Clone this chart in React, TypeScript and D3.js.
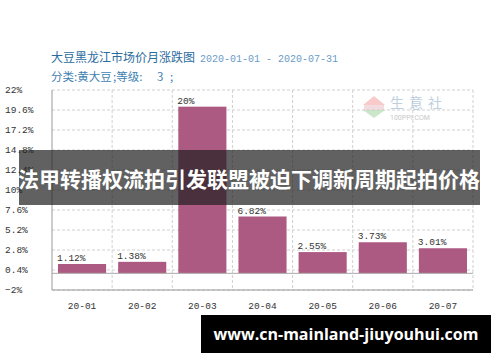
import React from 'react';
import * as d3 from 'd3';

const months = ['20-01', '20-02', '20-03', '20-04', '20-05', '20-06', '20-07'];
const changes = [1.12, 1.38, 20, 6.82, 2.55, 3.73, 3.01];
const valueLabels = ['1.12%', '1.38%', '20%', '6.82%', '2.55%', '3.73%', '3.01%'];
const yTicks = [-2, 0.4, 2.8, 5.2, 7.6, 10, 12.4, 14.8, 17.2, 19.6, 22];

const W = 500;
const H = 362;
const margin = { top: 90, right: 27, bottom: 72, left: 52 };

const App = () => {
  const x0 = margin.left;
  const x1 = W - margin.right;
  const y0 = H - margin.bottom;
  const y1 = margin.top;

  const y = d3.scaleLinear().domain([-2, 22]).range([y0, y1]);
  // columns for grid, bars inset in each column
  const cols = d3.scaleBand().domain(months).range([x0, x1]).padding(0);
  const x = d3.scaleBand().domain(months).range([x0, x1]).paddingInner(0.2).paddingOuter(0.1);

  const tickFont = '"Liberation Mono", "DejaVu Sans Mono", monospace';
  const cjk = '"Noto Sans CJK SC", sans-serif';

  return (
    <svg width={W} height={H} style={{ position: 'absolute', left: 0, top: 0, background: '#fff' }}>
      {/* title */}
      <text x={51} y={62} fontFamily={cjk} fontSize={12} fill="#2b6b9e">
        大豆黑龙江市场价月涨跌图
        <tspan x={200} fontFamily={tickFont} fontSize={10} fill="#6a9cc8">2020-01-01 - 2020-07-31</tspan>
      </text>
      <text x={51} y={81} fontFamily={cjk} fontSize={11.5} fill="#3f7fb2">
        分类:黄大豆
        <tspan x={113}>;等级:</tspan>
        <tspan x={157}>3</tspan>
        <tspan x={170}>;</tspan>
      </text>

      {/* horizontal grid */}
      {yTicks.map(t => (
        <line key={t} x1={x0} x2={x1} y1={y(t)} y2={y(t)} stroke="#d0d0d0" strokeDasharray="3,2" />
      ))}
      {/* vertical grid */}
      {months.map(m => (
        <line key={m} x1={(cols(m) as number) + cols.bandwidth()} x2={(cols(m) as number) + cols.bandwidth()}
          y1={y1} y2={y0} stroke="#d0d0d0" strokeDasharray="3,2" />
      ))}

      {/* watermark */}
      <g opacity={0.55}>
        <path d="M363,105 L374,96 L385,105 Z" fill="#f3a0a0" />
        <rect x={364} y={105} width={20} height={5} fill="#e8c0c8" />
        <path d="M363,110 L385,110 L374,118 Z" fill="#9fd59f" />
        <text x={390} y={108} fontFamily={cjk} fontSize={14} fill="#8aa8c8" letterSpacing={5}>生意社</text>
        <text x={390} y={120} fontFamily="Roboto, sans-serif" fontSize={7} fill="#999">100PPI.COM</text>
      </g>

      {/* bars */}
      {months.map((m, i) => {
        const v = changes[i];
        return (
          <g key={m}>
            <rect x={x(m)} y={y(Math.max(0, v))} width={x.bandwidth()}
              height={Math.abs(y(v) - y(0))} fill="#ad5a82" />
            <text x={(x(m) as number) - 1} y={y(v) - 3} fontFamily={tickFont} fontSize={9.5} fill="#333">
              {valueLabels[i]}
            </text>
          </g>
        );
      })}

      {/* zero line */}
      <line x1={x0} x2={x1} y1={y(0)} y2={y(0)} stroke="#aaa" />
      {/* axes */}
      <line x1={x0} x2={x0} y1={y1} y2={y0} stroke="#999" />
      <line x1={x0} x2={x1} y1={y0} y2={y0} stroke="#999" />

      {/* y tick labels */}
      {yTicks.map(t => (
        <text key={t} x={5} y={y(t) + 3} fontFamily={tickFont} fontSize={9.5} fill="#333">
          {d3.format('~g')(t) + '%'}
        </text>
      ))}
      {/* x labels */}
      {months.map(m => (
        <text key={m} x={(cols(m) as number) + cols.bandwidth() / 2} y={309} textAnchor="middle"
          fontFamily={tickFont} fontSize={9.5} fill="#333">
          {m}
        </text>
      ))}

      {/* headline banner */}
      <rect x={19} y={150} width={461} height={55} fill="rgb(30,30,30)" fillOpacity={0.7} />
      <text x={249} y={187} textAnchor="middle" fontFamily={cjk} fontWeight="bold" fontSize={21} fill="#fff">
        法甲转播权流拍引发联盟被迫下调新周期起拍价格
      </text>

      {/* url box */}
      <rect x={201} y={315} width={290} height={38} fill="#000" />
      <text x={346} y={340} textAnchor="middle" fontFamily='"Open Sans", sans-serif' fontWeight="bold" fontSize={16} fill="#fff">
        www.cn-mainland-jiuyouhui.com
      </text>
    </svg>
  );
};

export default App;
